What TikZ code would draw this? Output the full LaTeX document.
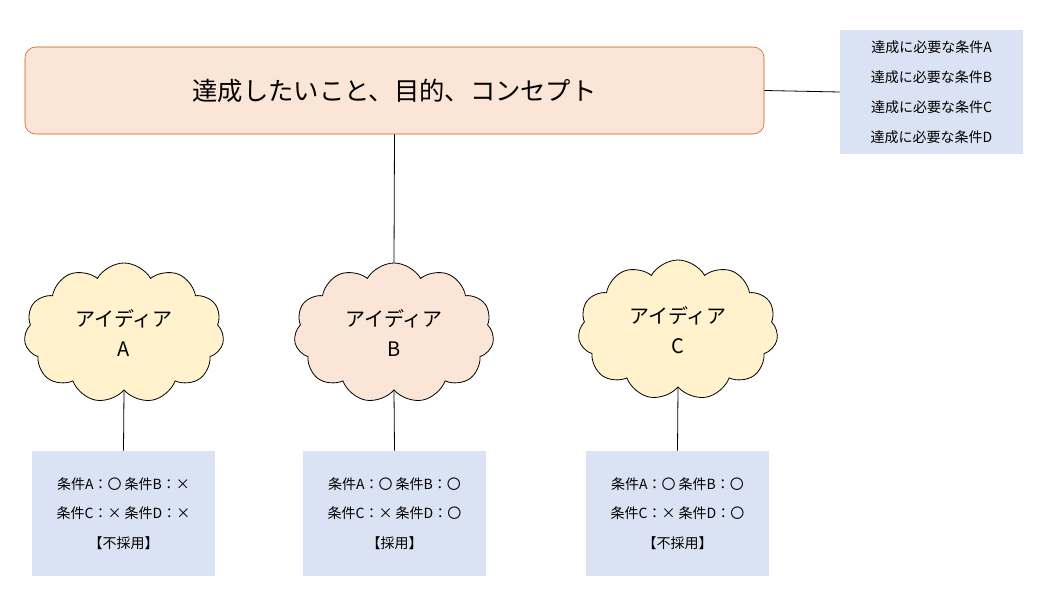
\documentclass[tikz,border=0pt]{standalone}
\usepackage{fontspec}
\setmainfont{Noto Sans CJK JP}
\usetikzlibrary{shapes.symbols}
\definecolor{peach}{HTML}{FBE5D6}
\definecolor{ylw}{HTML}{FFF2CC}
\definecolor{bluebox}{HTML}{DAE3F3}
\definecolor{brd}{HTML}{C55A11}
\begin{document}
\begin{tikzpicture}[x=0.75pt,y=-0.75pt,
  cl/.style={cloud,cloud puffs=11,cloud puff arc=120,aspect=1.45,draw=black,line width=0.6pt,minimum width=200*0.75pt,minimum height=140*0.75pt,align=center,font=\fontsize{15}{22}\selectfont,inner sep=0pt},
  bx/.style={fill=bluebox,minimum width=183*0.75pt,minimum height=125*0.75pt,align=center,font=\fontsize{10.5}{22}\selectfont,inner sep=0pt},
  ln/.style={draw=black,line width=0.6pt}]
\useasboundingbox (0,0) rectangle (1052,616);
\node[draw=brd,fill=peach,rounded corners=8pt,minimum width=739*0.75pt,minimum height=87*0.75pt,font=\fontsize{19}{22}\selectfont] (top) at (394.5,90.5) {達成したいこと、目的、コンセプト};
\node[fill=bluebox,minimum width=183*0.75pt,minimum height=124*0.75pt,align=center,font=\fontsize{10.5}{22.5}\selectfont,inner sep=0pt] (cond) at (931.5,92) {達成に必要な条件A\\達成に必要な条件B\\達成に必要な条件C\\達成に必要な条件D};
\node[cl,fill=ylw] (ca) at (124,333) {アイディア\\A};
\node[cl,fill=peach] (cb) at (394,333) {アイディア\\B};
\node[cl,fill=ylw] (cc) at (678,330) {アイディア\\C};
\node[bx] (ba) at (123.5,513.5) {条件A：〇 条件B：×\\条件C：× 条件D：×\\【不採用】};
\node[bx] (bb) at (394.5,513.5) {条件A：〇 条件B：〇\\条件C：× 条件D：〇\\【採用】};
\node[bx] (bc) at (677.5,513.5) {条件A：〇 条件B：〇\\条件C：× 条件D：〇\\【不採用】};
\draw[ln] (top.south) -- (cb.north);
\draw[ln] (top.east) -- (cond.west);
\draw[ln] (ca.south) -- (ba.north);
\draw[ln] (cb.south) -- (bb.north);
\draw[ln] (cc.south) -- (bc.north);
\end{tikzpicture}
\end{document}
